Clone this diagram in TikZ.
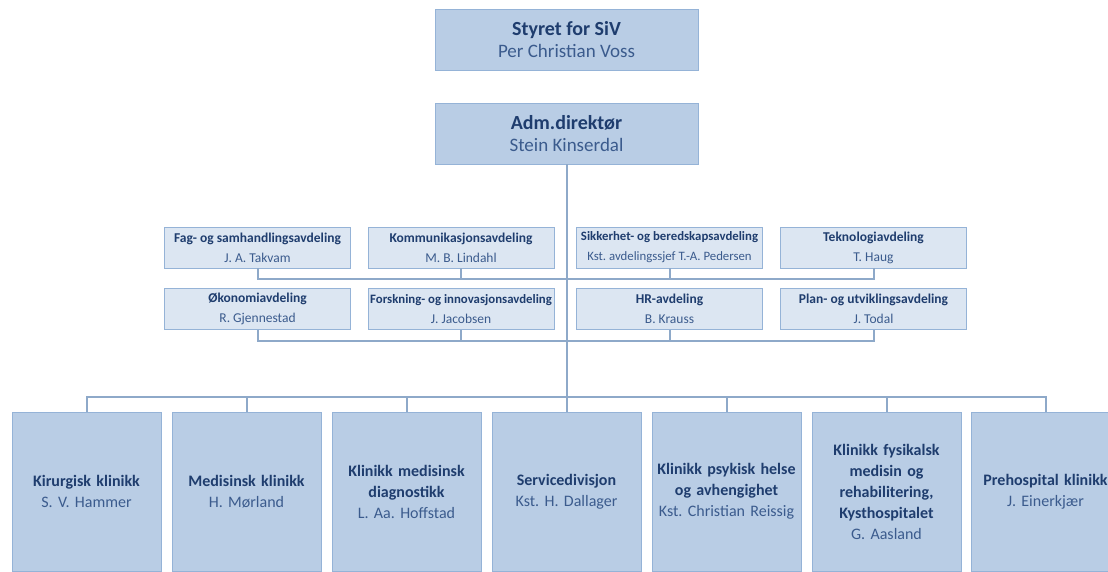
\documentclass[tikz,border=0pt]{standalone}
\usepackage{fontspec}
\setmainfont{Carlito}
\usetikzlibrary{positioning}
\frenchspacing

\definecolor{boxfill}{HTML}{B9CDE5}
\definecolor{stafffill}{HTML}{DCE6F2}
\definecolor{boxline}{HTML}{95B3D7}
\definecolor{linkcol}{HTML}{8EA9C9}
\definecolor{titlecol}{HTML}{1F3D6E}
\definecolor{namecol}{HTML}{3B5B8D}

\tikzstyle{topbox} = [rectangle, draw=boxline, fill=boxfill, minimum width=263pt, minimum height=61pt, inner sep=0pt, align=center, text=titlecol, font=\fontsize{19}{22}\selectfont]
\tikzstyle{staffbox} = [rectangle, draw=boxline, fill=stafffill, minimum width=186pt, minimum height=41pt, inner sep=0pt, align=center, text=titlecol, font=\fontsize{13.5}{20}\selectfont]
\tikzstyle{clinic} = [rectangle, draw=boxline, fill=boxfill, minimum width=149pt, minimum height=159pt, inner xsep=1pt, text width=147pt, align=center, text=titlecol, font=\fontsize{16}{21}\selectfont]
\tikzstyle{link} = [draw=linkcol, line width=2pt]

\begin{document}
\begin{tikzpicture}[x=1pt, y=-1pt]

\useasboundingbox (0,0) rectangle (1108,572);
\clip (0,0) rectangle (1108,572);

\node[topbox] (board) at (566.5, 39.5) {\textbf{\fontsize{20}{22}\selectfont Styret for SiV}\\\textcolor{namecol}{Per Christian Voss}};
\node[topbox] (ceo) at (566.5, 133.5) {\textbf{\fontsize{20}{22}\selectfont Adm.direktør}\\\textcolor{namecol}{Stein Kinserdal}};

% staff, first row

\node[staffbox] (fag) at (257.5, 247.5) {\textbf{Fag- og samhandlingsavdeling}\\\textcolor{namecol}{J. A. Takvam}};
\node[staffbox] (komm) at (461, 247.5) {\textbf{Kommunikasjonsavdeling}\\\textcolor{namecol}{M. B. Lindahl}};
\node[staffbox] (sikk) at (669.5, 247.5) {\textbf{\fontsize{12.8}{20}\selectfont Sikkerhet- og beredskapsavdeling}\\\textcolor{namecol}{\fontsize{12.8}{20}\selectfont Kst. avdelingssjef T.-A. Pedersen}};
\node[staffbox] (tek) at (873.5, 247.5) {\textbf{Teknologiavdeling}\\\textcolor{namecol}{T. Haug}};

% staff, second row

\node[staffbox] (okon) at (257.5, 309) {\textbf{Økonomiavdeling}\\\textcolor{namecol}{R. Gjennestad}};
\node[staffbox] (forsk) at (461, 309) {\textbf{\fontsize{12.8}{20}\selectfont Forskning- og innovasjonsavdeling}\\\textcolor{namecol}{J. Jacobsen}};
\node[staffbox] (hr) at (669.5, 309) {\textbf{HR-avdeling}\\\textcolor{namecol}{B. Krauss}};
\node[staffbox] (plan) at (873.5, 309) {\textbf{Plan- og utviklingsavdeling}\\\textcolor{namecol}{J. Todal}};

% clinics

\node[clinic] (kir) at (86.5, 491.5) {\textbf{Kirurgisk klinikk}\\\textcolor{namecol}{S. V. Hammer}};
\node[clinic] (med) at (246.5, 491.5) {\textbf{Medisinsk klinikk}\\\textcolor{namecol}{H. Mørland}};
\node[clinic] (diag) at (406.5, 491.5) {\textbf{Klinikk medisinsk}\\\textbf{diagnostikk}\\\textcolor{namecol}{L. Aa. Hoffstad}};
\node[clinic] (serv) at (566.5, 491.5) {\textbf{Servicedivisjon}\\\textcolor{namecol}{Kst. H. Dallager}};
\node[clinic] (psyk) at (726.5, 491.5) {\textbf{Klinikk psykisk helse}\\\textbf{og avhengighet}\\\textcolor{namecol}{Kst. Christian Reissig}};
\node[clinic] (fys) at (886.5, 491.5) {\textbf{Klinikk fysikalsk}\\\textbf{medisin og}\\\textbf{rehabilitering,}\\\textbf{Kysthospitalet}\\\textcolor{namecol}{G. Aasland}};
\node[clinic] (pre) at (1045.5, 491.5) {\textbf{Prehospital klinikk}\\\textcolor{namecol}{J. Einerkjær}};

% lines

\coordinate (bus1) at (566.5, 279);
\coordinate (bus2) at (566.5, 341);
\coordinate (bus3) at (566.5, 397);

\draw[link] (ceo.south) -- (serv.north);

\draw[link] (fag.south) |- (bus1) -| (tek.south);
\draw[link] (komm.south) -- (komm.south |- bus1);
\draw[link] (sikk.south) -- (sikk.south |- bus1);

\draw[link] (okon.south) |- (bus2) -| (plan.south);
\draw[link] (forsk.south) -- (forsk.south |- bus2);
\draw[link] (hr.south) -- (hr.south |- bus2);

\draw[link] (kir.north) |- (bus3) -| (pre.north);
\draw[link] (med.north) -- (med.north |- bus3);
\draw[link] (diag.north) -- (diag.north |- bus3);
\draw[link] (psyk.north) -- (psyk.north |- bus3);
\draw[link] (fys.north) -- (fys.north |- bus3);

\end{tikzpicture}
\end{document}
